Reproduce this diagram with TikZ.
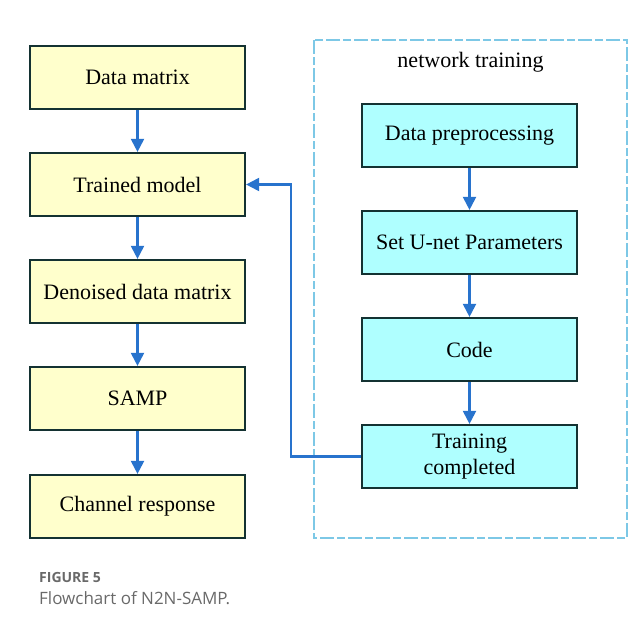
\documentclass[tikz,border=0pt]{standalone}
\usepackage{fontspec}
\setmainfont{Liberation Serif}
\newfontfamily\capfont{Open Sans}
\usetikzlibrary{arrows.meta}
\definecolor{boxline}{RGB}{20,50,50}
\definecolor{yfill}{RGB}{255,255,204}
\definecolor{cfill}{RGB}{175,255,255}
\definecolor{arrblue}{RGB}{40,115,205}
\definecolor{dashblue}{RGB}{125,200,230}
\definecolor{capgray}{RGB}{105,105,105}
\tikzset{
  ybox/.style={draw=boxline, line width=2.2pt, fill=yfill, minimum width=215pt, minimum height=63pt, font=\fontsize{22}{25}\selectfont, align=center, inner sep=0pt},
  cbox/.style={ybox, fill=cfill},
  flow/.style={draw=arrblue, line width=2.1pt, -{Triangle[length=13pt,width=13pt]}}
}
\begin{document}
\begin{tikzpicture}[x=1pt,y=-1pt]
\useasboundingbox (0,0) rectangle (639,633);
\draw[dashblue, line width=2pt, dash pattern=on 14pt off 3pt on 8pt off 3pt] (314,40) rectangle (627,538);
\node[font=\fontsize{22}{25}\selectfont] (title) at (470.5,62) {network training};
\node[ybox] (dm) at (137.5,77.5) {Data matrix};
\node[ybox] (tm) at (137.5,184.5) {Trained model};
\node[ybox] (dd) at (137.5,291.5) {Denoised data matrix};
\node[ybox] (samp) at (137.5,398.5) {SAMP};
\node[ybox] (cr) at (137.5,506.5) {Channel response};
\node[cbox] (dp) at (469.5,135.5) {Data preprocessing};
\node[cbox] (su) at (469.5,242.5) {Set U-net Parameters};
\node[cbox] (code) at (469.5,349.5) {Code};
\node[cbox] (tc) at (469.5,456.5) {Training\\[1pt]completed};
\draw[flow] (dm) -- (tm);
\draw[flow] (tm) -- (dd);
\draw[flow] (dd) -- (samp);
\draw[flow] (samp) -- (cr);
\draw[flow] (dp) -- (su);
\draw[flow] (su) -- (code);
\draw[flow] (code) -- (tc);
\coordinate (c1) at (291,456.5);
\coordinate (c2) at (291,184.5);
\draw[flow] (tc.west) -- (c1) -- (c2) -- (tm.east);
\node[anchor=west, inner sep=0pt, text=capgray, font=\capfont\bfseries\fontsize{14}{16}\selectfont] (fig) at (39,577) {FIGURE 5};
\node[anchor=west, inner sep=0pt, text=capgray, font=\capfont\fontsize{17}{20}\selectfont] (cap) at (39,598) {Flowchart of N2N-SAMP.};
\end{tikzpicture}
\end{document}
